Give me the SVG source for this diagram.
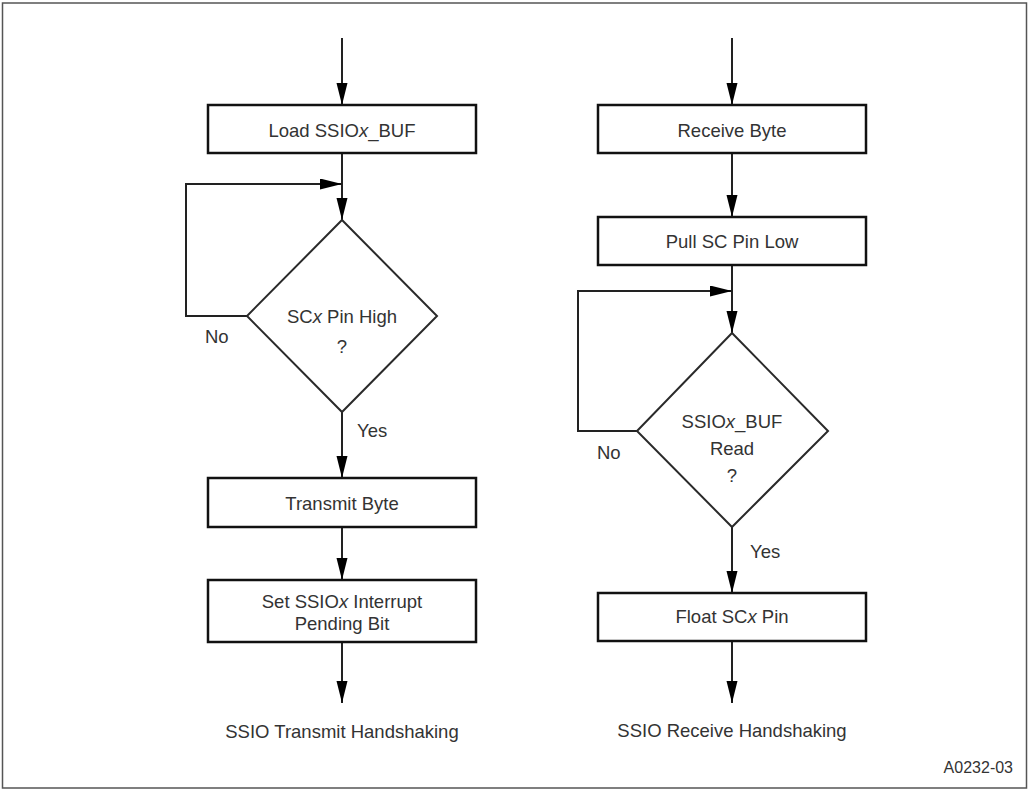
<svg xmlns="http://www.w3.org/2000/svg" width="1029" height="790" viewBox="0 0 1029 790">
<style>
  .box { fill: #fff; stroke: #111; stroke-width: 2.5; }
  .dia { fill: #fff; stroke: #2a2a2a; stroke-width: 2; }
  .ln { fill: none; stroke: #222; stroke-width: 2; }
  text { font-family: "Liberation Sans", Arial, sans-serif; font-size: 18.5px; fill: #333; }
  .c { text-anchor: middle; }
  .i { font-style: italic; }
</style>
<defs>
  <marker id="ah" markerUnits="userSpaceOnUse" markerWidth="22" markerHeight="12" refX="22" refY="5.5" orient="auto">
    <path d="M0,0 L22,5.5 L0,11 z" fill="#000"/>
  </marker>
</defs>
<rect x="2.5" y="3" width="1024" height="785" fill="#fff" stroke="#555" stroke-width="1.5"/>

<g id="connectors">
  <line class="ln" x1="342" y1="38" x2="342" y2="105" marker-end="url(#ah)"/>
  <line class="ln" x1="342" y1="153" x2="342" y2="220" marker-end="url(#ah)"/>
  <polyline class="ln" points="247,316 186,316 186,184 342,184" marker-end="url(#ah)"/>
  <line class="ln" x1="342" y1="412" x2="342" y2="478" marker-end="url(#ah)"/>
  <line class="ln" x1="342" y1="527" x2="342" y2="580" marker-end="url(#ah)"/>
  <line class="ln" x1="342" y1="642" x2="342" y2="703" marker-end="url(#ah)"/>

  <line class="ln" x1="732" y1="38" x2="732" y2="105" marker-end="url(#ah)"/>
  <line class="ln" x1="732" y1="153" x2="732" y2="217" marker-end="url(#ah)"/>
  <line class="ln" x1="732" y1="265" x2="732" y2="333" marker-end="url(#ah)"/>
  <polyline class="ln" points="637,431 578,431 578,291 732,291" marker-end="url(#ah)"/>
  <line class="ln" x1="732" y1="527" x2="732" y2="593" marker-end="url(#ah)"/>
  <line class="ln" x1="732" y1="641" x2="732" y2="703" marker-end="url(#ah)"/>

  <text x="205" y="343">No</text>
  <text x="357" y="437">Yes</text>
  <text x="597" y="459">No</text>
  <text x="750" y="558">Yes</text>
</g>

<g id="load">
  <rect class="box" x="208" y="105" width="268" height="48"/>
  <text class="c" x="342" y="137">Load SSIO<tspan class="i">x</tspan>_BUF</text>
</g>
<g id="scx-high">
  <polygon class="dia" points="342,220 437,316 342,412 247,316"/>
  <text class="c" x="342" y="323">SC<tspan class="i">x</tspan> Pin High</text>
  <text class="c" x="342" y="353">?</text>
</g>
<g id="transmit">
  <rect class="box" x="208" y="478" width="268" height="49"/>
  <text class="c" x="342" y="510">Transmit Byte</text>
</g>
<g id="set-pending">
  <rect class="box" x="208" y="580" width="268" height="62"/>
  <text class="c" x="342" y="608">Set SSIO<tspan class="i">x</tspan> Interrupt</text>
  <text class="c" x="342" y="630">Pending Bit</text>
</g>
<g id="tx-title">
  <text class="c" x="342" y="738">SSIO Transmit Handshaking</text>
</g>

<g id="receive">
  <rect class="box" x="598" y="105" width="268" height="48"/>
  <text class="c" x="732" y="137">Receive Byte</text>
</g>
<g id="pull-low">
  <rect class="box" x="598" y="217" width="268" height="48"/>
  <text class="c" x="732" y="248">Pull SC Pin Low</text>
</g>
<g id="buf-read">
  <polygon class="dia" points="732,333 828,431 732,527 637,431"/>
  <text class="c" x="732" y="428">SSIO<tspan class="i">x</tspan>_BUF</text>
  <text class="c" x="732" y="455">Read</text>
  <text class="c" x="732" y="482">?</text>
</g>
<g id="float">
  <rect class="box" x="598" y="593" width="268" height="48"/>
  <text class="c" x="732" y="623">Float SC<tspan class="i">x</tspan> Pin</text>
</g>
<g id="rx-title">
  <text class="c" x="732" y="737">SSIO Receive Handshaking</text>
</g>

<text x="1013" y="773" style="font-size:16px;text-anchor:end">A0232-03</text>
</svg>
